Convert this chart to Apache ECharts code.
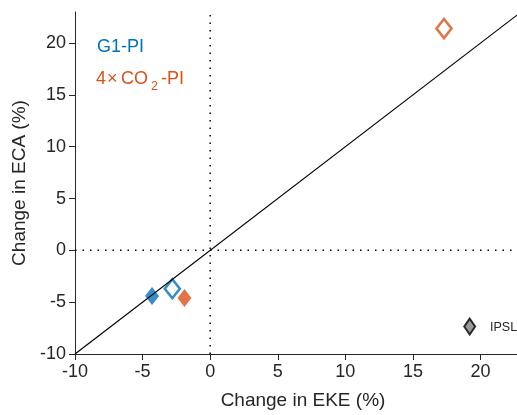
<!DOCTYPE html>
<html>
<head>
<meta charset="utf-8">
<script src="https://cdn.jsdelivr.net/npm/echarts@6/dist/echarts.min.js"></script>
<style>html,body{margin:0;padding:0;background:#fff}#c{width:517px;height:415px}</style>
</head>
<body>
<div id="c"></div>
<script>
// Data (EKE change %, ECA change %)
const g1Filled = [[-4.3, -4.4]];
const g1Open = [[-2.8, -3.7]];
const co2Filled = [[-1.9, -4.6]];
const co2Open = [[17.3, 21.4]];
const ipslMarker = [[19.2, -7.35]];
const oneToOne = [[-10, -10], [22.7, 22.7]];
const zeroV = [[0, -10], [0, 23]];
const zeroH = [[-10, 0], [22.7, 0]];
const xTicks = [-10, -5, 0, 5, 10, 15, 20];
const yTicks = [-10, -5, 0, 5, 10, 15, 20];

const BLUE = '#0072BD', ORANGE = '#D95319', INK = '#262626';
const FONT = 'Liberation Sans, Arial, Helvetica, sans-serif';

const chart = echarts.init(document.getElementById('c'));
const axisCommon = {
  interval: 5,
  splitLine: {show: false},
  axisLine: {show: true, onZero: false, lineStyle: {color: INK, width: 1}},
  axisTick: {show: true, inside: false, length: 6, lineStyle: {color: INK}},
  axisLabel: {color: INK, fontSize: 18, fontFamily: FONT, margin: 9, showMaxLabel: false,
    formatter: v => String(v)},
  nameLocation: 'middle',
  nameTextStyle: {color: INK, fontSize: 19, fontFamily: FONT}
};
chart.setOption({
  animation: false,
  grid: {left: 75, right: 0, top: 12, bottom: 60, containLabel: false},
  xAxis: Object.assign({}, axisCommon, {type: 'value', min: xTicks[0], max: 22.7,
    name: 'Change in EKE (%)', nameGap: 37,
    nameTextStyle: {color: INK, fontSize: 19, fontFamily: FONT, padding: [0, 0, 0, 14]}}),
  yAxis: Object.assign({}, axisCommon, {type: 'value', min: yTicks[0], max: 23,
    name: 'Change in ECA (%)', nameGap: 44}),
  series: [
    {type: 'line', data: zeroV, symbol: 'none', silent: true,
      lineStyle: {color: '#000', width: 1.5, type: [1.5, 6]}},
    {type: 'line', data: zeroH, symbol: 'none', silent: true,
      lineStyle: {color: '#000', width: 1.5, type: [1.5, 6]}},
    {type: 'line', data: oneToOne, symbol: 'none', silent: true,
      lineStyle: {color: '#000', width: 1.2}},
    {type: 'scatter', data: g1Filled, symbol: 'diamond', symbolSize: [14, 18],
      itemStyle: {color: BLUE}},
    {type: 'scatter', data: co2Filled, symbol: 'diamond', symbolSize: [14, 18],
      itemStyle: {color: ORANGE}},
    {type: 'scatter', data: g1Open, symbol: 'diamond', symbolSize: [15, 19],
      itemStyle: {color: '#fff', borderColor: BLUE, borderWidth: 2.6}},
    {type: 'scatter', data: co2Open, symbol: 'diamond', symbolSize: [15, 19],
      itemStyle: {color: '#fff', borderColor: ORANGE, borderWidth: 2.6}},
    {type: 'scatter', data: ipslMarker, symbol: 'diamond', symbolSize: [11, 16],
      itemStyle: {color: '#808080', borderColor: '#000', borderWidth: 2}}
  ],
  graphic: [
    {type: 'text', left: 97, top: 38, style: {text: 'G1-PI', fill: BLUE, font: '18px ' + FONT}},
    {type: 'text', left: 96, top: 70, style: {text: '4', fill: ORANGE, font: '18px ' + FONT}},
    {type: 'text', left: 107, top: 70, style: {text: '\u00d7', fill: ORANGE, font: '18px ' + FONT}},
    {type: 'text', left: 121, top: 70, style: {text: 'CO', fill: ORANGE, font: '18px ' + FONT}},
    {type: 'text', left: 151, top: 80, style: {text: '2', fill: ORANGE, font: '12.5px ' + FONT}},
    {type: 'text', left: 161, top: 70, style: {text: '-PI', fill: ORANGE, font: '18px ' + FONT}},
    {type: 'text', left: 490, top: 321, style: {text: 'IPSL', fill: INK, font: '12.5px ' + FONT}}
  ]
});
</script>
</body>
</html>
